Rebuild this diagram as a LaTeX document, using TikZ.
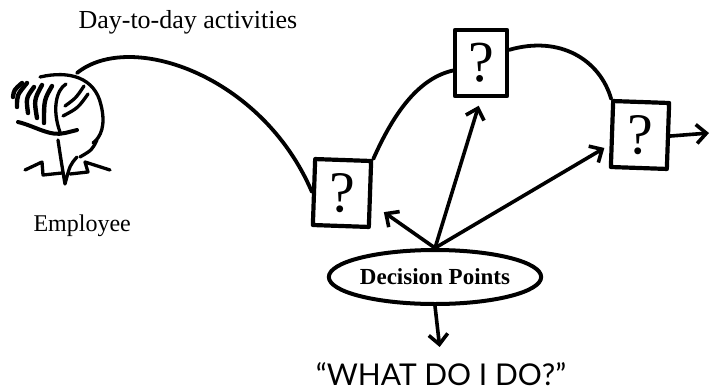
\documentclass[tikz,border=0pt]{standalone}
\usepackage{fontspec}
\setmainfont{Liberation Serif}
\newfontfamily\handfont{Lato}
\usetikzlibrary{arrows.meta,shapes.geometric}

\tikzset{
    qbox/.style={draw, line width=4.2pt, minimum width=56pt, minimum height=66pt,
        inner sep=0pt, font=\fontsize{58}{58}\selectfont},
    pointer/.style={line width=3.6pt,
        -{Straight Barb[length=10pt,width=19pt,line width=3.6pt]}},
    trail/.style={line width=3.8pt},
    pen/.style={line width=3.3pt},
}

\begin{document}
\begin{tikzpicture}[x=1pt, y=-1pt, line cap=round, line join=round]
        \useasboundingbox (0,0) rectangle (711,391);

        \node[anchor=base west, font=\fontsize{26}{26}\selectfont] (days) at (75,28) {Day-to-day activities};
        \node[anchor=base west, font=\fontsize{24}{24}\selectfont] (emp) at (30,231) {Employee};

        % the three decisions
        \node[qbox, rotate=-2] (q1) at (342,193) {?};
        \node[qbox, minimum width=52pt] (q2) at (481,63) {?};
        \node[qbox, rotate=-2] (q3) at (640,135) {?};

        \node[draw, ellipse, line width=4pt, minimum width=184pt, minimum height=54pt, inner sep=0pt,
              font=\bfseries\fontsize{23}{23}\selectfont] (dp) at (435,277) {Decision Points};
        \node[font=\handfont\fontsize{30}{30}\selectfont] (what) at (441,374) {“WHAT DO I DO?”};

        % employee head
        \begin{scope}[pen]
            \draw[line width=4.4pt] (13,97) .. controls (14,90) .. (22,83);
            \draw[line width=4.4pt] (17,107) .. controls (17,95) .. (27,83);
            \draw[line width=4.4pt] (28,113) .. controls (26,98) .. (34,87);
            \draw[line width=4.4pt] (37,118) .. controls (34,100) .. (42,85);
            \draw[line width=4.4pt] (44,123) .. controls (44,100) .. (52,86);
            \draw (60,132) .. controls (52,110) and (56,90) .. (66,84);
            \draw (65,106) .. controls (76,98) .. (84,86);
            \draw (63,116) .. controls (78,108) .. (88,94);
            \draw (40,77) .. controls (70,70) and (95,78) .. (101,105)
                  .. controls (106,125) and (101,137) .. (93,143);
            \draw[line width=4pt] (18,122) .. controls (35,126) and (50,137) .. (65,133) -- (77,130);
            \draw (58,140) .. controls (61,160) .. (65,184) .. controls (70,165) .. (77,157);
            \draw (97,140) .. controls (92,150) .. (80,157);
            \draw (25,170) -- (42,162) -- (43,175) -- (62,173);
            \draw (70,174) -- (88,172) -- (85,162) -- (110,170);
        \end{scope}
        \coordinate (head) at (77,73);
        \coordinate (exit) at (709,133);

        \draw[trail] (head) .. controls (130,30) and (262,75) .. (q1.west);
        \draw[trail] (q1.north east) .. controls (395,110) and (420,78) .. (q2.195);
        \draw[trail] (q2.25) .. controls (560,35) and (600,60) .. (q3.north west);
        \draw[pointer] (q3.east) -- (exit);

        \draw[pointer] (dp.north) -- ([xshift=13pt,yshift=17pt]q1.south east);
        \draw[pointer, shorten >=8pt] (dp.north) -- (q2.south);
        \draw[pointer, shorten >=6pt] (dp.north) -- (q3.200);
        \draw[pointer, shorten >=12pt] (dp.south) -- (what.north);
\end{tikzpicture}
\end{document}
